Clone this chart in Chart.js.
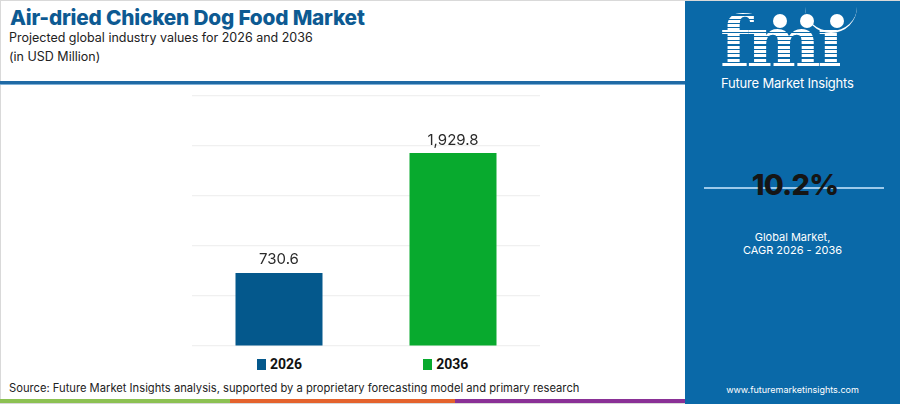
<!DOCTYPE html>
<html>
<head>
<meta charset="utf-8">
<script src="https://cdn.jsdelivr.net/npm/chart.js@4.4.1/dist/chart.umd.min.js"></script>
<style>
  html, body { margin: 0; padding: 0; }
  body { width: 900px; height: 404px; position: relative; overflow: hidden; background: #fff; font-family: Inter, "Open Sans", sans-serif; }
  .frame { position: absolute; left: 0; top: 0; width: 898px; height: 402px; border: 1px solid #d9d9d9; }
  .title { position: absolute; left: 10px; top: 5px; font-size: 20.8px; font-weight: 800; color: #0d5a92; letter-spacing: -0.2px; }
  .sub { position: absolute; left: 9px; top: 28px; font-size: 12.5px; color: #222; line-height: 19px; }
  .rule { position: absolute; left: 0; top: 81px; width: 686px; height: 3px; background: #1f6aa5; border-bottom: 1px solid #7fb0d6; }
  #wrap { position: absolute; left: 0; top: 86px; width: 685px; height: 262px; }
  #legend { position: absolute; left: 257px; top: 356px; display: flex; gap: 121px; font-family: Roboto, sans-serif; font-weight: 700; font-size: 14px; color: #111; }
  #legend span.item { display: flex; align-items: center; }
  #legend i { display: inline-block; width: 9px; height: 11px; margin-right: 4px; }
  .source { position: absolute; left: 9px; top: 381px; font-size: 11.2px; color: #222; }
  .strip { position: absolute; top: 399px; height: 4px; }
  .panel { position: absolute; left: 685px; top: 1px; width: 215px; height: 403px; background: #0a69a8; color: #fff; text-align: center; }
  .fmi { position: absolute; left: 35px; top: 6px; font-family: "DejaVu Serif", serif; font-weight: 700; font-size: 70px; line-height: 70px; letter-spacing: -3.5px;
         background: repeating-linear-gradient(#fff 0 3px, #0a69a8 3px 4.3px); -webkit-background-clip: text; background-clip: text; color: transparent; }
  .dot { position: absolute; width: 14px; height: 14px; border-radius: 50%; background: #fff; top: 13px; }
  .smile { position: absolute; left: 120px; top: 6px; width: 52px; height: 24px; border-bottom: 2px solid #fff; border-radius: 0 0 30px 30px; }
  .fmi-name { position: absolute; left: 36px; top: 74px; font-size: 13px; letter-spacing: -0.2px; }
  .cagr-line { position: absolute; left: 19px; top: 186px; width: 180px; height: 2px; background: #9cc9ea; }
  .cagr { position: absolute; left: 0; width: 220px; top: 166px; font-size: 29px; font-weight: 800; color: #151515; letter-spacing: -0.8px; }
  .cagr-txt { position: absolute; left: 0; width: 215px; top: 230px; font-size: 11px; line-height: 13px; }
  .url { position: absolute; left: 0; width: 215px; top: 383px; font-size: 9px; }
</style>
</head>
<body>
<div class="frame"></div>
<div class="title">Air-dried Chicken Dog Food Market</div>
<div class="sub">Projected global industry values for 2026 and 2036<br>(in USD Million)</div>
<div class="rule"></div>
<div id="wrap"><canvas id="chart"></canvas></div>
<div id="legend"></div>
<div class="source">Source: Future Market Insights analysis, supported by a proprietary forecasting model and primary research</div>
<div class="strip" style="left:0;width:230px;background:#8cc152"></div>
<div class="strip" style="left:230px;width:225px;background:#e4622c"></div>
<div class="strip" style="left:455px;width:230px;background:#8a3196"></div>
<div class="panel">
  <div class="fmi">fmı</div>
  <div class="dot" style="left:88px"></div>
  <div class="dot" style="left:115px"></div>
  <div class="dot" style="left:145px"></div>
  <div class="smile"></div>
  <div class="fmi-name">Future Market Insights</div>
  <div class="cagr-line"></div>
  <div class="cagr">10.2%</div>
  <div class="cagr-txt">Global Market,<br>CAGR 2026 - 2036</div>
  <div class="url">www.futuremarketinsights.com</div>
</div>
<script>
// market size by year, USD million
const years = ["2026", "2036"];
const values = [730.6, 1929.8];
const barColors = ["#04588c", "#08aa2e"];
const yTicks = [0, 500, 1000, 1500, 2000, 2500];

// legend under the plot
const legendEl = document.getElementById("legend");
years.forEach((y, i) => {
  const s = document.createElement("span");
  s.className = "item";
  s.innerHTML = `<i style="background:${barColors[i]}"></i>${y}`;
  legendEl.appendChild(s);
});

const valueLabels = {
  id: "valueLabels",
  afterDatasetsDraw(chart) {
    const { ctx } = chart;
    const meta = chart.getDatasetMeta(0);
    ctx.save();
    ctx.font = "15px Inter, sans-serif";
    ctx.fillStyle = "#2a2a2a";
    ctx.textAlign = "center";
    ctx.textBaseline = "middle";
    meta.data.forEach((bar, i) => {
      const txt = values[i].toLocaleString("en-US", { minimumFractionDigits: 1 });
      ctx.fillText(txt, bar.x, bar.y - 13);
    });
    ctx.restore();
  },
};

new Chart(document.getElementById("chart"), {
  type: "bar",
  data: {
    labels: years,
    datasets: [{ data: values, backgroundColor: barColors, barPercentage: 0.5, categoryPercentage: 1 }],
  },
  options: {
    responsive: true, maintainAspectRatio: false, animation: false,
    layout: { padding: { top: 10, right: 145, bottom: 2, left: 192 } },
    plugins: { legend: { display: false }, tooltip: { enabled: false } },
    scales: {
      x: { display: false },
      y: {
        min: yTicks[0], max: yTicks[yTicks.length - 1],
        afterBuildTicks: (ax) => { ax.ticks = yTicks.map((v) => ({ value: v })); },
        ticks: { display: false },
        border: { display: false },
        grid: { color: "#f0f0f0", lineWidth: 1.2, drawTicks: false },
      },
    },
  },
  plugins: [valueLabels],
});
</script>
</body>
</html>
